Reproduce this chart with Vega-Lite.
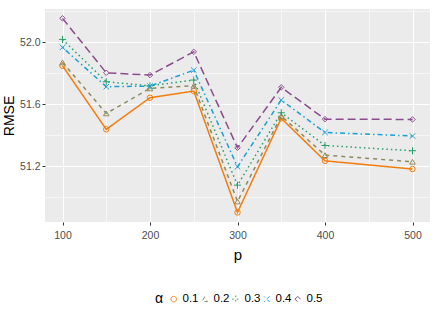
{
  "$schema": "https://vega.github.io/schema/vega-lite/v6.json",
  "width": 385,
  "height": 213,
  "autosize": {"type": "none"},
  "padding": {"left": 45, "top": 9, "right": 6, "bottom": 105},
  "background": "white",
  "config": {
    "font": "Liberation Sans, Arial, sans-serif",
    "view": {"fill": "#EBEBEB", "stroke": null}
  },
  "data": {
    "values": [
      {"p": 100, "alpha": "0.1", "rmse": 51.847},
      {"p": 150, "alpha": "0.1", "rmse": 51.437},
      {"p": 200, "alpha": "0.1", "rmse": 51.641},
      {"p": 250, "alpha": "0.1", "rmse": 51.684},
      {"p": 300, "alpha": "0.1", "rmse": 50.901},
      {"p": 350, "alpha": "0.1", "rmse": 51.508},
      {"p": 400, "alpha": "0.1", "rmse": 51.234},
      {"p": 500, "alpha": "0.1", "rmse": 51.181},
      {"p": 100, "alpha": "0.2", "rmse": 51.869},
      {"p": 150, "alpha": "0.2", "rmse": 51.540},
      {"p": 200, "alpha": "0.2", "rmse": 51.701},
      {"p": 250, "alpha": "0.2", "rmse": 51.718},
      {"p": 300, "alpha": "0.2", "rmse": 50.972},
      {"p": 350, "alpha": "0.2", "rmse": 51.523},
      {"p": 400, "alpha": "0.2", "rmse": 51.271},
      {"p": 500, "alpha": "0.2", "rmse": 51.228},
      {"p": 100, "alpha": "0.3", "rmse": 52.017},
      {"p": 150, "alpha": "0.3", "rmse": 51.744},
      {"p": 200, "alpha": "0.3", "rmse": 51.718},
      {"p": 250, "alpha": "0.3", "rmse": 51.755},
      {"p": 300, "alpha": "0.3", "rmse": 51.077},
      {"p": 350, "alpha": "0.3", "rmse": 51.544},
      {"p": 400, "alpha": "0.3", "rmse": 51.333},
      {"p": 500, "alpha": "0.3", "rmse": 51.299},
      {"p": 100, "alpha": "0.4", "rmse": 51.966},
      {"p": 150, "alpha": "0.4", "rmse": 51.712},
      {"p": 200, "alpha": "0.4", "rmse": 51.716},
      {"p": 250, "alpha": "0.4", "rmse": 51.819},
      {"p": 300, "alpha": "0.4", "rmse": 51.196},
      {"p": 350, "alpha": "0.4", "rmse": 51.626},
      {"p": 400, "alpha": "0.4", "rmse": 51.417},
      {"p": 500, "alpha": "0.4", "rmse": 51.394},
      {"p": 100, "alpha": "0.5", "rmse": 52.153},
      {"p": 150, "alpha": "0.5", "rmse": 51.802},
      {"p": 200, "alpha": "0.5", "rmse": 51.787},
      {"p": 250, "alpha": "0.5", "rmse": 51.937},
      {"p": 300, "alpha": "0.5", "rmse": 51.318},
      {"p": 350, "alpha": "0.5", "rmse": 51.708},
      {"p": 400, "alpha": "0.5", "rmse": 51.503},
      {"p": 500, "alpha": "0.5", "rmse": 51.501}
    ]
  },
  "encoding": {
    "x": {
      "field": "p", "type": "quantitative",
      "scale": {"domain": [80, 520], "nice": false, "zero": false},
      "axis": {
        "title": "p", "titleFontSize": 15, "titleFontWeight": "normal", "titleColor": "black", "titlePadding": 7,
        "values": [100, 150, 200, 250, 300, 350, 400, 450, 500],
        "labelExpr": "datum.value % 100 === 0 ? datum.label : ''",
        "labelFontSize": 10.5, "labelColor": "#4D4D4D", "labelPadding": 5,
        "domain": false, "tickSize": 3, "tickColor": "#333333",
        "tickOpacity": {"condition": {"test": "datum.value % 100 === 0", "value": 1}, "value": 0},
        "grid": true,
        "gridColor": "white",
        "gridWidth": {"condition": {"test": "datum.value % 100 === 0", "value": 1.1}, "value": 0.55}
      }
    },
    "y": {
      "field": "rmse", "type": "quantitative",
      "scale": {"domain": [50.8395, 52.2133], "nice": false, "zero": false},
      "axis": {
        "title": "RMSE", "titleFontSize": 14, "titleFontWeight": "normal", "titleColor": "black", "titlePadding": 3,
        "values": [51.0, 51.2, 51.4, 51.6, 51.8, 52.0, 52.2],
        "format": ".1f",
        "labelExpr": "round(datum.value*10) % 4 === 0 ? datum.label : ''",
        "labelFontSize": 10.5, "labelColor": "#4D4D4D", "labelPadding": 2,
        "domain": false, "tickSize": 3, "tickColor": "#333333",
        "tickOpacity": {"condition": {"test": "round(datum.value*10) % 4 === 0", "value": 1}, "value": 0},
        "grid": true,
        "gridColor": "white",
        "gridWidth": {"condition": {"test": "round(datum.value*10) % 4 === 0", "value": 1.1}, "value": 0.55}
      }
    },
    "color": {
      "field": "alpha", "type": "nominal",
      "scale": {"domain": ["0.1", "0.2", "0.3", "0.4", "0.5"], "range": ["#F27D0C", "#8F8A5E", "#2A9E6B", "#1C9FD4", "#8B4C8B"]},
      "legend": {
        "title": "α", "orient": "none", "direction": "horizontal", "titleOrient": "left",
        "legendX": 110, "legendY": 284, "titleFontSize": 14, "titleFontWeight": "normal", "titleColor": "black",
        "labelFontSize": 11.5, "labelColor": "black", "symbolSize": 30, "symbolStrokeWidth": 1,
        "columnPadding": 0, "labelOffset": 3, "titlePadding": 4
      }
    }
  },
  "layer": [
    {
      "mark": {"type": "line", "strokeWidth": 1.5},
      "encoding": {
        "strokeDash": {
          "field": "alpha", "type": "nominal",
          "scale": {"domain": ["0.1", "0.2", "0.3", "0.4", "0.5"], "range": [[1, 0], [4, 4], [1.5, 3], [1.5, 3, 5, 3], [8, 4]]},
          "legend": null
        }
      }
    },
    {
      "mark": {"type": "point", "filled": false, "strokeWidth": 1, "size": 30, "opacity": 1},
      "encoding": {
        "shape": {
          "field": "alpha", "type": "nominal",
          "scale": {"domain": ["0.1", "0.2", "0.3", "0.4", "0.5"], "range": ["circle", "triangle-up", "M-1.3,0L1.3,0M0,-1.3L0,1.3", "M-1,-1L1,1M-1,1L1,-1", "diamond"]}
        }
      }
    }
  ]
}
